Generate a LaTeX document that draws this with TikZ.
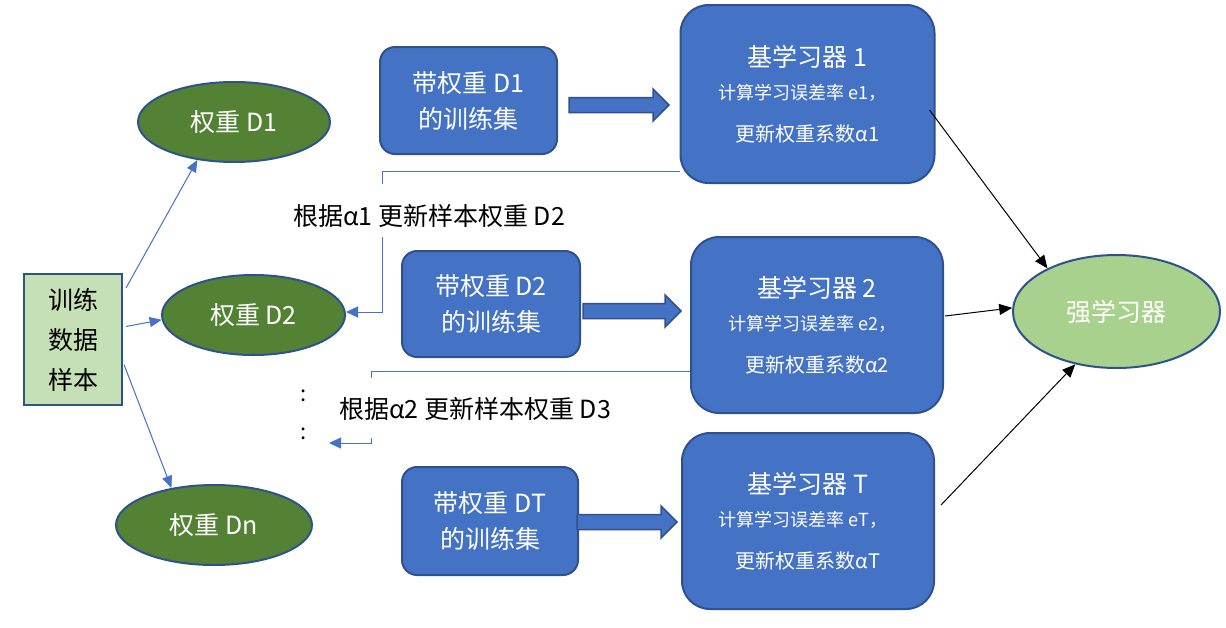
\documentclass[tikz,border=0pt]{standalone}
\usepackage{fontspec}
\setmainfont{Noto Sans CJK SC}
\usetikzlibrary{arrows.meta,shapes.geometric,calc}
\definecolor{bfill}{HTML}{4472C4}
\definecolor{bline}{HTML}{2F528F}
\definecolor{dgreen}{HTML}{548235}
\definecolor{lgreen}{HTML}{A9D18E}
\definecolor{pgreen}{HTML}{C5E0B4}
\pgfdeclarelayer{bg}
\pgfdeclarelayer{paper}
\pgfsetlayers{paper,bg,main}
\newcommand\myblockarrow[3]{\filldraw[barrowstyle] ({#1},{#3-7.5}) -- ({#2-16},{#3-7.5}) -- ({#2-16},{#3-16}) -- ({#2},{#3}) -- ({#2-16},{#3+16}) -- ({#2-16},{#3+7.5}) -- ({#1},{#3+7.5}) -- cycle;}
\tikzset{
  bigfont/.style={font=\fontsize{25pt}{36pt}\selectfont},
  trainbox/.style={draw=bline, line width=2pt, fill=pgreen, align=center, font=\fontsize{25pt}{40pt}\selectfont, text=black},
  wellipse/.style={ellipse, draw=bline, line width=2pt, fill=dgreen, text=white, bigfont, inner sep=0pt},
  strongell/.style={ellipse, draw=bline, line width=2pt, fill=lgreen, text=white, bigfont, inner sep=0pt},
  setbox/.style={draw=bline, line width=2pt, fill=bfill, rounded corners=15pt, text=white, align=center, bigfont},
  basebox/.style={draw=bline, line width=2pt, fill=bfill, rounded corners=28pt},
  btitle/.style={text=white, bigfont, inner sep=0pt},
  bline1/.style={text=white, font=\fontsize{18pt}{20pt}\selectfont, inner sep=0pt},
  bline2/.style={text=white, font=\fontsize{20pt}{22pt}\selectfont, inner sep=0pt},
  lab/.style={text=black, bigfont, inner sep=0pt},
  barrowstyle/.style={fill=bfill, draw=bline, line width=1.5pt},
  bl/.style={draw=bfill, line width=1pt, -{Triangle[length=12pt,width=10pt]}},
  fb/.style={draw=bfill, line width=1pt},
  fbarrow/.style={draw=bfill, line width=1pt, -{Triangle[length=12pt,width=11pt]}},
  blk/.style={draw=black, line width=1pt, -{Triangle[length=13pt,width=11pt]}},
}
\begin{document}
\begin{tikzpicture}[x=1pt,y=-1pt]
\useasboundingbox (0,0) rectangle (1226,627);
\begin{pgfonlayer}{paper}
\fill[white] (0,0) rectangle (1226,627);
\end{pgfonlayer}
% nodes
\node[trainbox, minimum width=98, minimum height=131] (train) at (73,339.5) {训练\\数据\\样本};
\node[wellipse, minimum width=192, minimum height=80] (d1) at (234,122) {权重 D1};
\node[wellipse, minimum width=183, minimum height=80] (d2) at (253.5,315) {权重 D2};
\node[wellipse, minimum width=196, minimum height=80] (dn) at (214,525) {权重 Dn};

\node[setbox, minimum width=177, minimum height=107] (s1) at (468.5,100.5) {带权重 D1\\的训练集};
\node[setbox, minimum width=178, minimum height=106] (s2) at (491,304) {带权重 D2\\的训练集};
\node[setbox, minimum width=176, minimum height=108] (s3) at (490,521) {带权重 DT\\的训练集};

\node[basebox, minimum width=254, minimum height=178] (b1) at (807.5,94) {};
\node[btitle] (b1t) at ($(b1.center)+(0,-37)$) {基学习器 1};
\node[bline1] (b1a) at ($(b1.center)+(-5,-1)$) {计算学习误差率 e1，};
\node[bline2] (b1b) at ($(b1.center)+(0,40)$) {更新权重系数α1};

\node[basebox, minimum width=252, minimum height=176] (b2) at (817,325) {};
\node[btitle] (b2t) at ($(b2.center)+(0,-37)$) {基学习器 2};
\node[bline1] (b2a) at ($(b2.center)+(-5,-1)$) {计算学习误差率 e2，};
\node[bline2] (b2b) at ($(b2.center)+(0,40)$) {更新权重系数α2};

\node[basebox, minimum width=252, minimum height=176] (b3) at (808,521) {};
\node[btitle] (b3t) at ($(b3.center)+(0,-37)$) {基学习器 T};
\node[bline1] (b3a) at ($(b3.center)+(-5,-1)$) {计算学习误差率 eT，};
\node[bline2] (b3b) at ($(b3.center)+(0,40)$) {更新权重系数αT};

\node[strongell, minimum width=207, minimum height=113] (strong) at (1116.5,311.5) {强学习器};

\node[lab] (lab1) at (429,216) {根据α1 更新样本权重 D2};
\node[lab] (lab2) at (475,409) {根据α2 更新样本权重 D3};
\node[text=black, font=\fontsize{22pt}{22pt}\selectfont, inner sep=0pt] (dots1) at (304,396) {:};
\node[text=black, font=\fontsize{22pt}{22pt}\selectfont, inner sep=0pt] (dots2) at (304,434) {:};

% block arrows
\myblockarrow{569}{669}{105}
\myblockarrow{583}{681}{311}
\myblockarrow{577}{677}{522}

% connectors
\coordinate (f1a) at (382,184);
\coordinate (f1b) at (382,237);
\coordinate (f2a) at (371,378);
\coordinate (f2b) at (371,438);
\coordinate (f2end) at (329,443);
\begin{pgfonlayer}{bg}
\draw[fb] ($(b1.west)+(0,77)$) -| (f1a);
\draw[fb] ($(b2.west)+(0,46)$) -| (f2a);
\end{pgfonlayer}
\draw[fbarrow] (f1b) |- ($(d2.east)+(0,-3)$);
\draw[fbarrow] (f2b) |- (f2end);

\draw[bl] ($(train.east)+(3,-51.5)$) -- (d1.226);
\draw[bl] ($(train.east)+(3,-13)$) -- (d2.183);
\draw[bl] ($(train.east)+(1,25)$) -- (dn.139);

\draw[blk] ($(b1.east)+(-6,16)$) -- (strong.148);
\draw[blk] ($(b2.east)+(1,-9)$) -- (strong.178);
\draw[blk] ($(b3.east)+(6,-16)$) -- (strong.232);
\end{tikzpicture}
\end{document}
